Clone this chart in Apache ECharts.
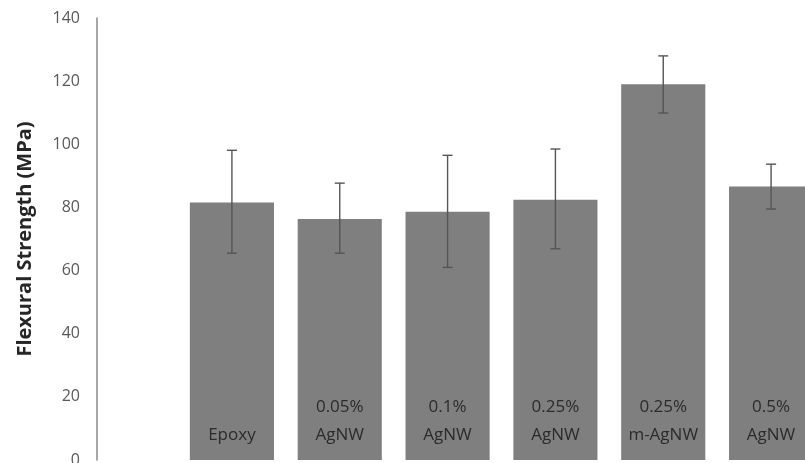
<!DOCTYPE html>
<html>
<head>
<meta charset="utf-8">
<script src="https://cdn.jsdelivr.net/npm/echarts@6/dist/echarts.min.js"></script>
<style>
  html, body { margin: 0; padding: 0; background: #ffffff; }
  #chart { width: 805px; height: 463px; }
</style>
</head>
<body>
<div id="chart"></div>
<script>
// Sample labels (drawn inside the bars)
const categories = ['Epoxy', '0.05%\nAgNW', '0.1%\nAgNW', '0.25%\nAgNW', '0.25%\nm-AgNW', '0.5%\nAgNW'];
// Mean flexural strength, MPa
const strength = [81.6, 76.3, 78.6, 82.4, 119.0, 86.6];
// Error bar limits, MPa
const errLow = [65.5, 65.5, 61.0, 66.9, 109.9, 79.5];
const errHigh = [98.1, 87.7, 96.5, 98.5, 128.0, 93.7];
// Value axis
const yTicks = { min: 0, max: 140, interval: 20 };

const errorData = categories.map((c, i) => [i, errLow[i], errHigh[i]]);

const chart = echarts.init(document.getElementById('chart'), null, { renderer: 'canvas' });

chart.setOption({
  animation: false,
  backgroundColor: '#ffffff',
  // the plot runs past the right edge of the page, so the last bar is cut off
  grid: { left: 178, width: 647, top: 18, bottom: 3, containLabel: false, outerBoundsMode: 'none' },
  xAxis: {
    type: 'category',
    data: categories,
    axisLine: { show: false },
    axisTick: { show: false },
    axisLabel: { show: false },
    splitLine: { show: false }
  },
  yAxis: {
    type: 'value',
    min: yTicks.min,
    max: yTicks.max,
    interval: yTicks.interval,
    offset: 81,
    name: 'Flexural Strength (MPa)',
    nameLocation: 'middle',
    nameGap: 62,
    nameRotate: 90,
    nameTextStyle: {
      fontFamily: 'Open Sans',
      fontWeight: 'bold',
      fontSize: 20,
      color: '#262626'
    },
    axisLine: { show: true, lineStyle: { color: '#8a8a8a', width: 1.5 } },
    axisTick: { show: false },
    splitLine: { show: false },
    axisLabel: {
      margin: 17,
      fontFamily: 'Open Sans',
      fontSize: 16,
      color: '#595959'
    }
  },
  series: [
    {
      type: 'bar',
      data: strength,
      barCategoryGap: '22%',
      itemStyle: { color: '#7f7f7f' },
      label: {
        show: true,
        position: 'insideBottom',
        distance: 11,
        formatter: (p) => categories[p.dataIndex],
        fontFamily: 'Open Sans',
        fontSize: 17,
        lineHeight: 28,
        color: '#2b2b2b',
        align: 'center'
      }
    },
    {
      type: 'custom',
      data: errorData,
      z: 5,
      renderItem: function (params, api) {
        const x = api.value(0);
        const lo = api.coord([x, api.value(1)]);
        const hi = api.coord([x, api.value(2)]);
        const cap = 5;
        const style = { stroke: '#555555', lineWidth: 1.4 };
        return {
          type: 'group',
          children: [
            { type: 'line', shape: { x1: lo[0], y1: lo[1], x2: hi[0], y2: hi[1] }, style },
            { type: 'line', shape: { x1: hi[0] - cap, y1: hi[1], x2: hi[0] + cap, y2: hi[1] }, style },
            { type: 'line', shape: { x1: lo[0] - cap, y1: lo[1], x2: lo[0] + cap, y2: lo[1] }, style }
          ]
        };
      }
    }
  ]
});
</script>
</body>
</html>
